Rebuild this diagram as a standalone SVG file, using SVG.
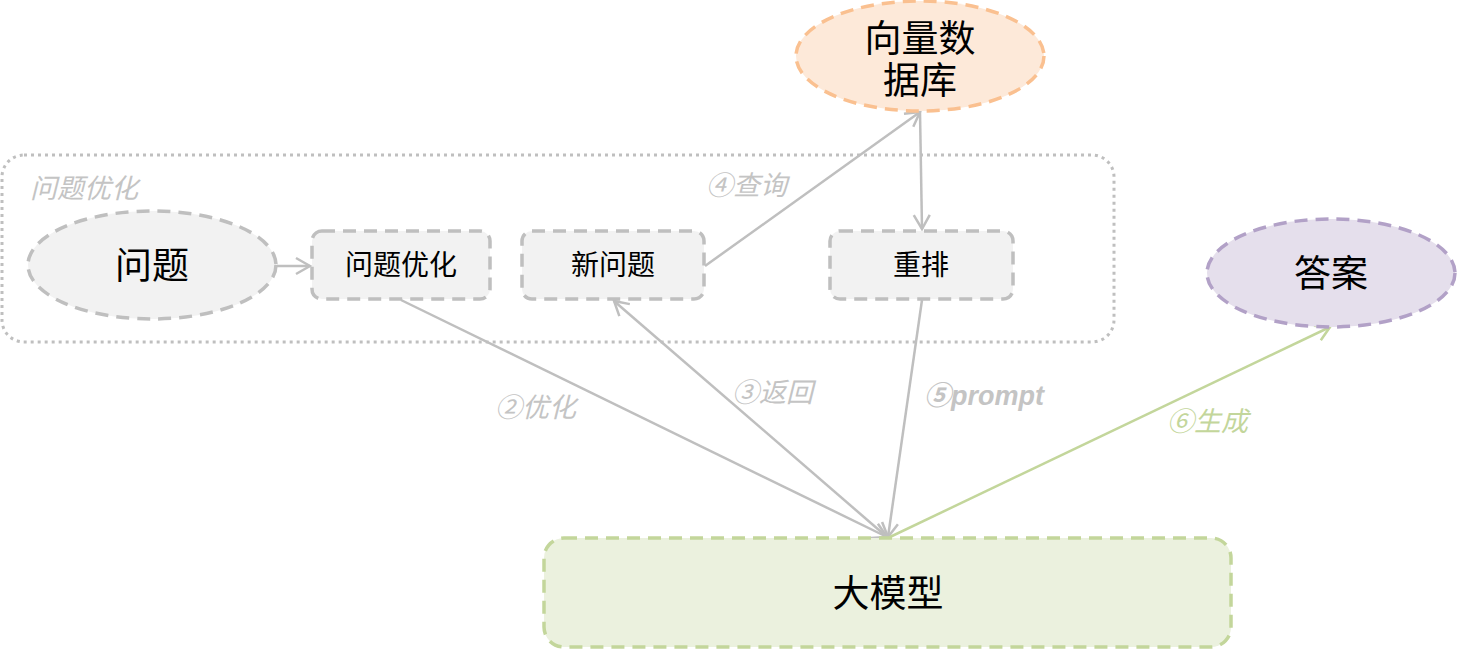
<svg xmlns="http://www.w3.org/2000/svg" width="1457" height="650" viewBox="0 0 1457 650">
<style>
.t{font-family:"Liberation Serif","Noto Sans CJK SC",serif;fill:#000;text-anchor:middle}
.big{font-size:37px}
.mid{font-size:28px}
.lbl{font-family:"Liberation Sans","Noto Sans CJK SC",sans-serif;font-style:italic;font-size:27px;fill:#c4c4c4}
.grey{fill:#f2f2f2;stroke:#bfbfbf;stroke-width:3.5;stroke-dasharray:13 8}
.c{fill:none;stroke:#bfbfbf;stroke-width:2.5}
.g{fill:none;stroke:#c3d69b;stroke-width:2.5}
</style>
<defs>
<marker id="ah" viewBox="0 0 20 20" refX="18" refY="10" markerWidth="20" markerHeight="20" markerUnits="userSpaceOnUse" orient="auto">
<path d="M4,2 L18,10 L4,18" fill="none" stroke="#bfbfbf" stroke-width="2.5"/>
</marker>
<marker id="ahg" viewBox="0 0 20 20" refX="18" refY="10" markerWidth="20" markerHeight="20" markerUnits="userSpaceOnUse" orient="auto">
<path d="M4,2 L18,10 L4,18" fill="none" stroke="#c3d69b" stroke-width="2.5"/>
</marker>
</defs>
<g id="group-opt">
<rect x="2" y="155" width="1112" height="187" rx="22" fill="none" stroke="#bfbfbf" stroke-width="3" stroke-dasharray="3 4"/>
<text class="lbl" x="30" y="198">问题优化</text>
</g>
<g id="connectors">
<line class="c" x1="277" y1="266" x2="310" y2="266" marker-end="url(#ah)"/>
<line class="c" x1="401" y1="300" x2="887" y2="537" marker-end="url(#ah)"/>
<line class="c" x1="887" y1="537" x2="614" y2="301" marker-end="url(#ah)"/>
<line class="c" x1="705" y1="266" x2="920" y2="112" marker-end="url(#ah)"/>
<line class="c" x1="920" y1="112" x2="922" y2="229" marker-end="url(#ah)"/>
<line class="c" x1="922" y1="300" x2="888" y2="537" marker-end="url(#ah)"/>
<line class="g" x1="890" y1="537" x2="1330" y2="327" marker-end="url(#ahg)"/>
<text class="lbl" x="495" y="417">②优化</text>
<text class="lbl" x="732" y="402">③返回</text>
<text class="lbl" x="924" y="405" style="font-weight:bold">⑤prompt</text>
<text class="lbl" x="706" y="195">④查询</text>
<text class="lbl" x="1167" y="431" style="fill:#c3d69b">⑥生成</text>
</g>
<g id="n-question">
<ellipse class="grey" cx="152" cy="265" rx="124" ry="54"/>
<text class="t big" x="152" y="279">问题</text>
</g>
<g id="n-opt">
<rect class="grey" x="312" y="231" width="178" height="68" rx="10"/>
<text class="t mid" x="401" y="275">问题优化</text>
</g>
<g id="n-new">
<rect class="grey" x="522" y="231" width="182" height="68" rx="10"/>
<text class="t mid" x="613" y="275">新问题</text>
</g>
<g id="n-rerank">
<rect class="grey" x="830" y="231" width="183" height="68" rx="10"/>
<text class="t mid" x="921" y="275">重排</text>
</g>
<g id="n-db">
<ellipse cx="920" cy="56" rx="124" ry="55" fill="#fde9d9" stroke="#fac090" stroke-width="3.5" stroke-dasharray="13 8"/>
<text class="t big" x="920" y="52">向量数</text>
<text class="t big" x="920" y="94">据库</text>
</g>
<g id="n-answer">
<ellipse cx="1331" cy="273" rx="124" ry="54" fill="#e5dfec" stroke="#b2a1c7" stroke-width="3.5" stroke-dasharray="13 8"/>
<text class="t big" x="1331" y="287">答案</text>
</g>
<g id="n-llm">
<rect x="544" y="538" width="687" height="109" rx="20" fill="#ebf1de" stroke="#c3d69b" stroke-width="3.5" stroke-dasharray="13 8"/>
<text class="t big" x="888" y="607">大模型</text>
</g>
</svg>
